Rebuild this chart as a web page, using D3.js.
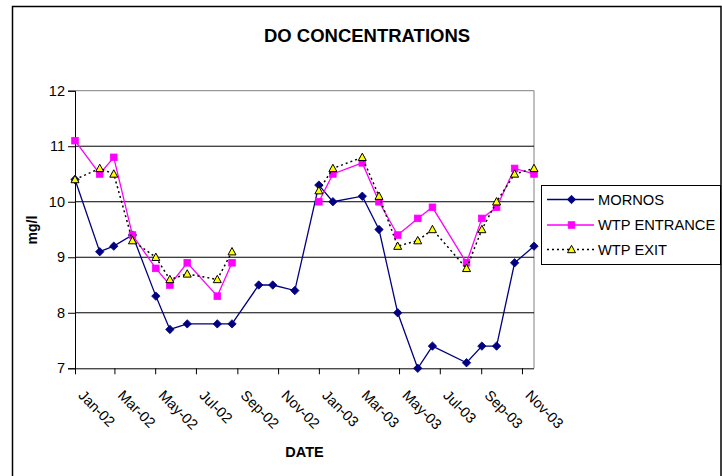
<!DOCTYPE html>
<html>
<head>
<meta charset="utf-8">
<script src="https://cdn.jsdelivr.net/npm/d3@7"></script>
<style>
  html, body { margin: 0; padding: 0; background: #fff; }
  svg { display: block; font-family: "Liberation Sans", Arial, sans-serif; }
</style>
</head>
<body>
<svg id="chart" width="722" height="476"></svg>
<script>
// ---- data ----
const dates = ["2002-01-01","2002-02-07","2002-02-28","2002-03-28","2002-05-02","2002-05-23",
  "2002-06-18","2002-08-02","2002-08-24","2002-10-03","2002-10-24","2002-11-26",
  "2003-01-01","2003-01-22","2003-03-07","2003-04-01","2003-04-29","2003-05-29",
  "2003-06-20","2003-08-10","2003-09-02","2003-09-24","2003-10-21","2003-11-19"];
const mornos = [10.4, 9.1, 9.2, 9.4, 8.3, 7.7, 7.8, 7.8, 7.8, 8.5, 8.5, 8.4,
  10.3, 10.0, 10.1, 9.5, 8.0, 7.0, 7.4, 7.1, 7.4, 7.4, 8.9, 9.2];
const wtpEntrance = [11.1, 10.5, 10.8, 9.4, 8.8, 8.5, 8.9, 8.3, 8.9, null, null, null,
  10.0, 10.5, 10.7, 10.0, 9.4, 9.7, 9.9, 8.9, 9.7, 9.9, 10.6, 10.5];
const wtpExit = [10.4, 10.6, 10.5, 9.3, 9.0, 8.6, 8.7, 8.6, 9.1, null, null, null,
  10.2, 10.6, 10.8, 10.1, 9.2, 9.3, 9.5, 8.8, 9.5, 10.0, 10.5, 10.6];
const seriesNames = ["MORNOS", "WTP ENTRANCE", "WTP EXIT"];
const yTicks = [7, 8, 9, 10, 11, 12];
const title = "DO CONCENTRATIONS";
const xTitle = "DATE";
const yTitle = "mg/l";

// ---- layout ----
const svg = d3.select("#chart");
const plot = { left: 75, right: 534, top: 90.7, bottom: 368.3 };
const parse = d3.timeParse("%Y-%m-%d");
const xDates = dates.map(parse);
const x = d3.scaleTime().domain(d3.extent(xDates)).range([plot.left, plot.right]);
const y = d3.scaleLinear().domain([7, 12]).range([plot.bottom, plot.top]);
const fmt = d3.timeFormat("%b-%y");

// outer chart border
svg.append("rect").attr("x", 12.5).attr("y", 6.5).attr("width", 708.5).attr("height", 520)
  .attr("fill", "#fff").attr("stroke", "#000").attr("stroke-width", 1.5);

// plot border (grey) top/right
svg.append("path")
  .attr("d", `M${plot.left},${plot.top}H${plot.right}V${plot.bottom}`)
  .attr("fill", "none").attr("stroke", "#808080").attr("stroke-width", 1);

// gridlines
svg.append("g").selectAll("line").data(yTicks.filter(v => v > 7 && v < 12)).join("line")
  .attr("x1", plot.left).attr("x2", plot.right)
  .attr("y1", d => y(d)).attr("y2", d => y(d))
  .attr("stroke", "#000").attr("stroke-width", 1);

// y axis
const yAxis = d3.axisLeft(y).tickValues(yTicks).tickSize(7).tickPadding(3).tickFormat(d3.format("d"));
const gy = svg.append("g").attr("transform", `translate(${plot.left},0)`).call(yAxis);
gy.select(".domain").attr("stroke", "#000");
gy.selectAll(".tick line").attr("stroke", "#000");
gy.selectAll("text").attr("font-size", "14.5px").attr("fill", "#000")
  .attr("font-family", "Liberation Sans, Arial, sans-serif");

// x axis
const xTickVals = d3.timeMonth.every(2).range(parse("2002-01-01"), parse("2003-12-01"));
const xAxis = d3.axisBottom(x).tickValues(xTickVals).tickSize(6).tickFormat(fmt);
const gx = svg.append("g").attr("transform", `translate(0,${plot.bottom})`).call(xAxis);
gx.select(".domain").attr("stroke", "#000").attr("d", `M${plot.left},0.5H${plot.right}`);
gx.selectAll(".tick line").attr("stroke", "#000");
gx.selectAll("text")
  .attr("font-size", "14.5px").attr("fill", "#000")
  .attr("font-family", "Liberation Sans, Arial, sans-serif")
  .attr("text-anchor", "start")
  .attr("y", 0).attr("dy", 0)
  .attr("transform", "translate(2,28) rotate(45)");

// series
const lineGen = d3.line()
  .defined(d => d.v !== null)
  .x(d => x(d.t)).y(d => y(d.v));
const mk = arr => arr.map((v, i) => ({ t: xDates[i], v }));

const series = [
  { name: seriesNames[0], data: mk(mornos), color: "#000080", dash: null, marker: "diamond" },
  { name: seriesNames[1], data: mk(wtpEntrance), color: "#FF00FF", dash: null, marker: "square" },
  { name: seriesNames[2], data: mk(wtpExit), color: "#000000", dash: "2,3", marker: "triangle" }
];

function drawMarker(g, type, cx, cy, s) {
  if (type === "diamond") {
    g.append("path").attr("d", `M${cx},${cy-4.2}L${cx+4.2},${cy}L${cx},${cy+4.2}L${cx-4.2},${cy}Z`)
      .attr("fill", s.color).attr("stroke", s.color).attr("stroke-width", 0.8);
  } else if (type === "square") {
    g.append("rect").attr("x", cx - 3.3).attr("y", cy - 3.3).attr("width", 6.6).attr("height", 6.6)
      .attr("fill", s.color).attr("stroke", s.color).attr("stroke-width", 0.8);
  } else {
    g.append("path").attr("d", `M${cx},${cy-4.2}L${cx+4},${cy+3.2}L${cx-4},${cy+3.2}Z`)
      .attr("fill", "#FFFF00").attr("stroke", "#000").attr("stroke-width", 1);
  }
}

series.forEach(s => {
  const g = svg.append("g");
  g.append("path").datum(s.data).attr("d", lineGen)
    .attr("fill", "none").attr("stroke", s.color).attr("stroke-width", s.dash ? 1.5 : 1.3)
    .attr("stroke-dasharray", s.dash);
  s.data.filter(d => d.v !== null).forEach(d => drawMarker(g, s.marker, x(d.t), y(d.v), s));
});

// legend
const lg = svg.append("g");
lg.append("rect").attr("x", 541.5).attr("y", 185.5).attr("width", 179).attr("height", 79)
  .attr("fill", "#fff").attr("stroke", "#000").attr("stroke-width", 1);
const legY = [199.5, 225, 249.5];
series.forEach((s, i) => {
  lg.append("line").attr("x1", 547).attr("x2", 594).attr("y1", legY[i]).attr("y2", legY[i])
    .attr("stroke", s.color).attr("stroke-width", s.dash ? 1.5 : 1.3).attr("stroke-dasharray", s.dash);
  drawMarker(lg, s.marker, 571.5, legY[i], s);
  lg.append("text").attr("x", 598).attr("y", legY[i]).attr("dy", "0.36em")
    .attr("font-size", "14.7px").attr("fill", "#000").text(s.name);
});

// titles
svg.append("text").attr("x", 367).attr("y", 41.5).attr("text-anchor", "middle")
  .attr("font-size", "18.5px").attr("font-weight", "bold").text(title);
svg.append("text").attr("x", 304.5).attr("y", 456.5).attr("text-anchor", "middle")
  .attr("font-size", "14.5px").attr("font-weight", "bold").text(xTitle);
svg.append("text").attr("transform", "translate(37,230) rotate(-90)").attr("text-anchor", "middle")
  .attr("font-size", "14px").attr("font-weight", "bold").text(yTitle);
</script>
</body>
</html>
